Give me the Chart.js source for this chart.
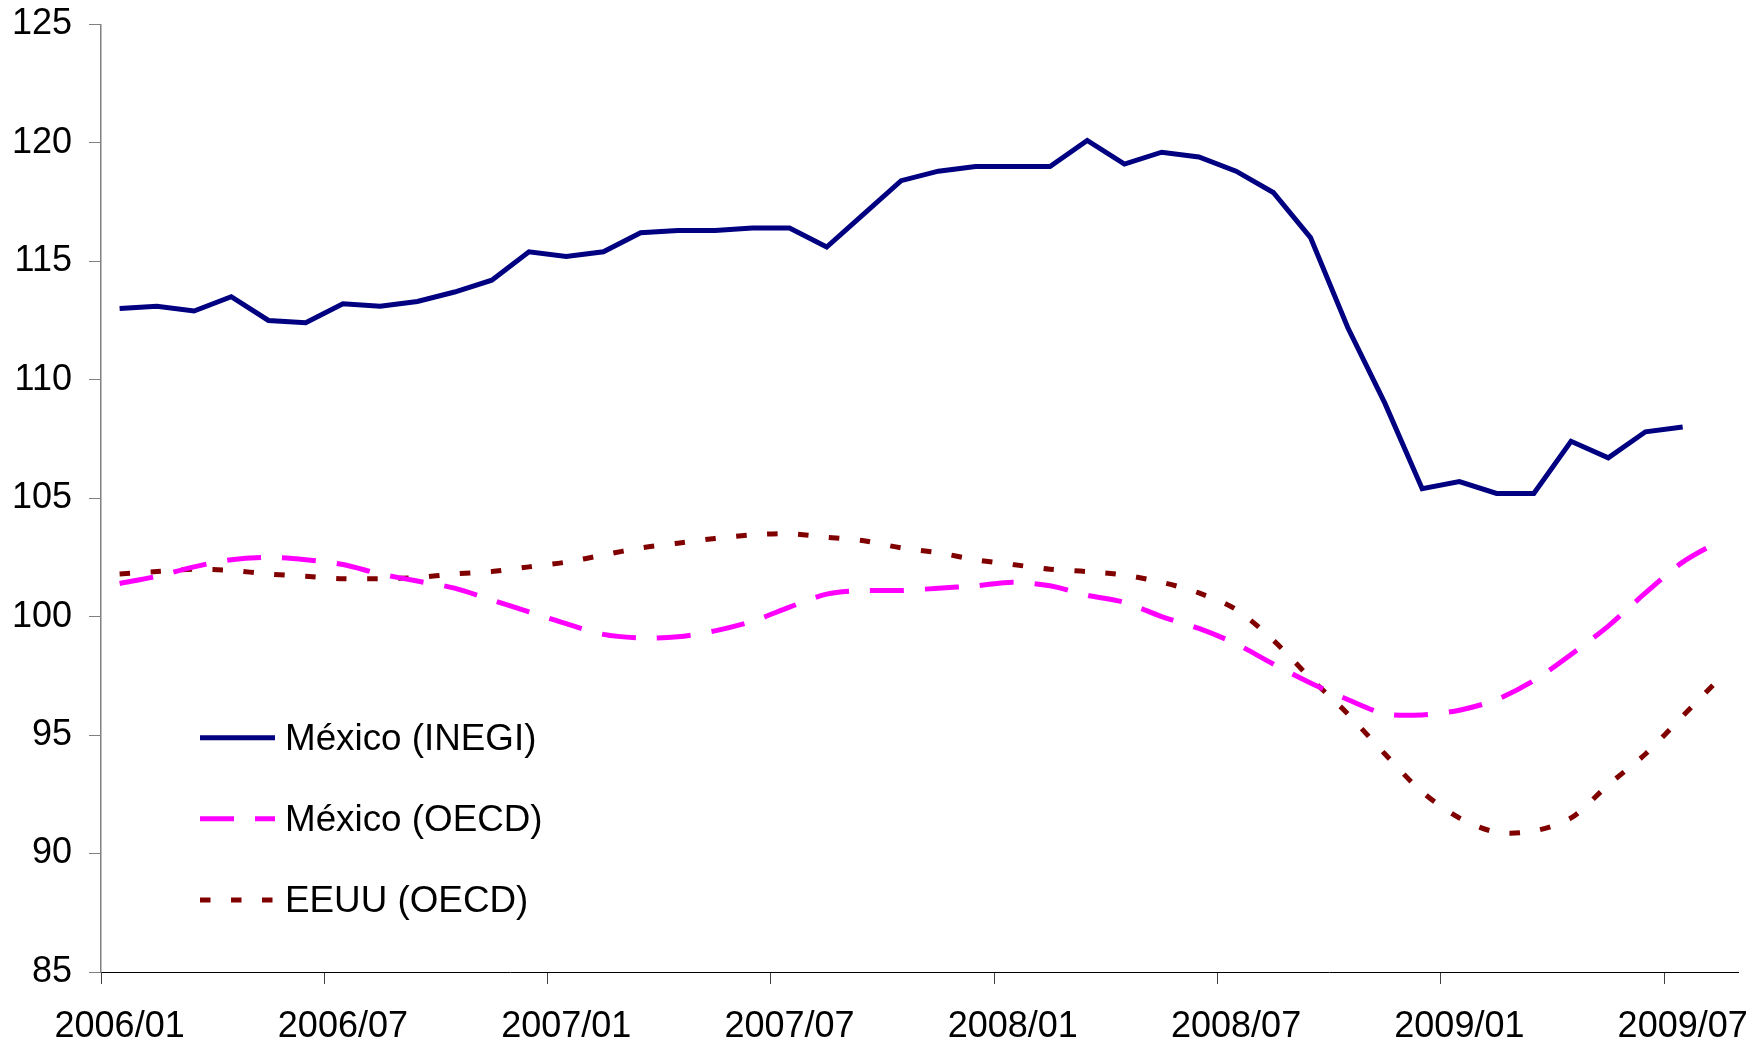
<!DOCTYPE html>
<html>
<head>
<meta charset="utf-8">
<script src="https://cdn.jsdelivr.net/npm/chart.js@4.4.1/dist/chart.umd.min.js"></script>
<style>
  html, body { margin: 0; padding: 0; background: #ffffff; }
  #wrap { width: 1754px; height: 1042px; position: relative; }
</style>
</head>
<body>
<div id="wrap"><canvas id="c" width="1754" height="1042"></canvas></div>
<script>
// ---- Data ----
const months = [
  '2006/01','2006/02','2006/03','2006/04','2006/05','2006/06',
  '2006/07','2006/08','2006/09','2006/10','2006/11','2006/12',
  '2007/01','2007/02','2007/03','2007/04','2007/05','2007/06',
  '2007/07','2007/08','2007/09','2007/10','2007/11','2007/12',
  '2008/01','2008/02','2008/03','2008/04','2008/05','2008/06',
  '2008/07','2008/08','2008/09','2008/10','2008/11','2008/12',
  '2009/01','2009/02','2009/03','2009/04','2009/05','2009/06',
  '2009/07','2009/08'
];

const mexicoInegi = [
  113.0, 113.1, 112.9, 113.5, 112.5, 112.4, 113.2, 113.1, 113.3, 113.7,
  114.2, 115.4, 115.2, 115.4, 116.2, 116.3, 116.3, 116.4, 116.4, 115.6,
  117.0, 118.4, 118.8, 119.0, 119.0, 119.0, 120.1, 119.1, 119.6, 119.4,
  118.8, 117.9, 116.0, 112.2, 109.0, 105.4, 105.7, 105.2, 105.2, 107.4,
  106.7, 107.8, 108.0, null
];

const mexicoOecd = [
  101.4, 101.7, 102.1, 102.4, 102.5, 102.4, 102.2, 101.8, 101.5, 101.2,
  100.7, 100.2, 99.7, 99.25, 99.1, 99.15, 99.4, 99.8, 100.4, 100.95,
  101.1, 101.1, 101.2, 101.3, 101.45, 101.3, 100.9, 100.6, 100.0, 99.5,
  98.85, 98.0, 97.2, 96.5, 95.9, 95.85, 96.05, 96.5, 97.3, 98.4,
  99.6, 101.0, 102.3, 103.2
];

const eeuuOecd = [
  101.8, 101.9, 102.0, 101.95, 101.8, 101.7, 101.6, 101.6, 101.65, 101.8,
  101.9, 102.1, 102.3, 102.6, 102.9, 103.1, 103.3, 103.45, 103.5, 103.35,
  103.2, 102.9, 102.7, 102.4, 102.2, 102.0, 101.9, 101.75, 101.45, 101.0,
  100.3, 99.0, 97.4, 95.9, 94.2, 92.6, 91.5, 90.9, 90.95, 91.5,
  92.9, 94.2, 95.8, 97.4
];

const seriesNames = ['México (INEGI)', 'México (OECD)', 'EEUU (OECD)'];
const yMin = 85, yMax = 125, yStep = 5;
const labelEvery = 6;

// ---- Styles ----
const FONT = 'Arial, "Liberation Sans", sans-serif';

const inlineLegend = {
  id: 'inlineLegend',
  afterDraw(chart) {
    const ctx = chart.ctx;
    const rows = [737.7, 818.7, 900];
    chart.data.datasets.forEach((ds, i) => {
      const y = rows[i];
      ctx.save();
      ctx.strokeStyle = ds.borderColor;
      ctx.lineWidth = ds.borderWidth;
      ctx.lineCap = 'butt';
      ctx.setLineDash(ds.borderDash || []);
      ctx.beginPath();
      ctx.moveTo(200, y);
      ctx.lineTo(275, y);
      ctx.stroke();
      ctx.setLineDash([]);
      ctx.fillStyle = '#000000';
      ctx.font = '36.8px ' + FONT;
      ctx.textBaseline = 'middle';
      ctx.textAlign = 'left';
      ctx.fillText(ds.label, 285, y + 1.8);
      ctx.restore();
    });
  }
};

new Chart(document.getElementById('c'), {
  type: 'line',
  data: {
    labels: months,
    datasets: [
      {
        label: seriesNames[0],
        data: mexicoInegi,
        borderColor: '#000080',
        borderWidth: 5,
        tension: 0,
        pointRadius: 0,
        fill: false,
        spanGaps: false
      },
      {
        label: seriesNames[1],
        data: mexicoOecd,
        borderColor: '#FF00FF',
        borderWidth: 5,
        borderDash: [34, 21],
        borderCapStyle: 'butt',
        tension: 0.3,
        pointRadius: 0,
        fill: false
      },
      {
        label: seriesNames[2],
        data: eeuuOecd,
        borderColor: '#800000',
        borderWidth: 5,
        borderDash: [10.5, 20.5],
        borderCapStyle: 'butt',
        tension: 0.3,
        pointRadius: 0,
        fill: false
      }
    ]
  },
  options: {
    responsive: false,
    devicePixelRatio: 1,
    animation: false,
    layout: { padding: { top: 24.3, right: 15.5, left: 0, bottom: 0 } },
    plugins: {
      legend: { display: false },
      tooltip: { enabled: false }
    },
    scales: {
      x: {
        type: 'category',
        offset: true,
        afterFit(scale) {
          scale.height = 70;
          scale.paddingLeft = 0;
          scale.paddingRight = 0;
        },
        border: { display: true, color: '#000000', width: 1 },
        grid: {
          offset: true,
          drawOnChartArea: false,
          drawTicks: true,
          tickLength: 12,
          lineWidth: 1,
          color: (ctx) => (ctx.index % labelEvery === 0 ? '#404040' : 'rgba(0,0,0,0)')
        },
        ticks: {
          autoSkip: false,
          maxRotation: 0,
          minRotation: 0,
          padding: 21,
          color: '#000000',
          font: { family: FONT, size: 36 },
          callback: function (val, idx) { return idx % labelEvery === 0 ? months[idx] : ''; }
        }
      },
      y: {
        min: yMin,
        max: yMax,
        afterFit(scale) {
          scale.width = 101;
          scale.paddingTop = 0;
          scale.paddingBottom = 0;
        },
        border: { display: true, color: '#808080', width: 1.5 },
        grid: {
          drawOnChartArea: false,
          drawTicks: true,
          tickLength: 12,
          color: '#808080',
          lineWidth: 1
        },
        ticks: {
          stepSize: yStep,
          padding: 17,
          color: '#000000',
          font: { family: FONT, size: 36 }
        }
      }
    }
  },
  plugins: [inlineLegend]
});
</script>
</body>
</html>
